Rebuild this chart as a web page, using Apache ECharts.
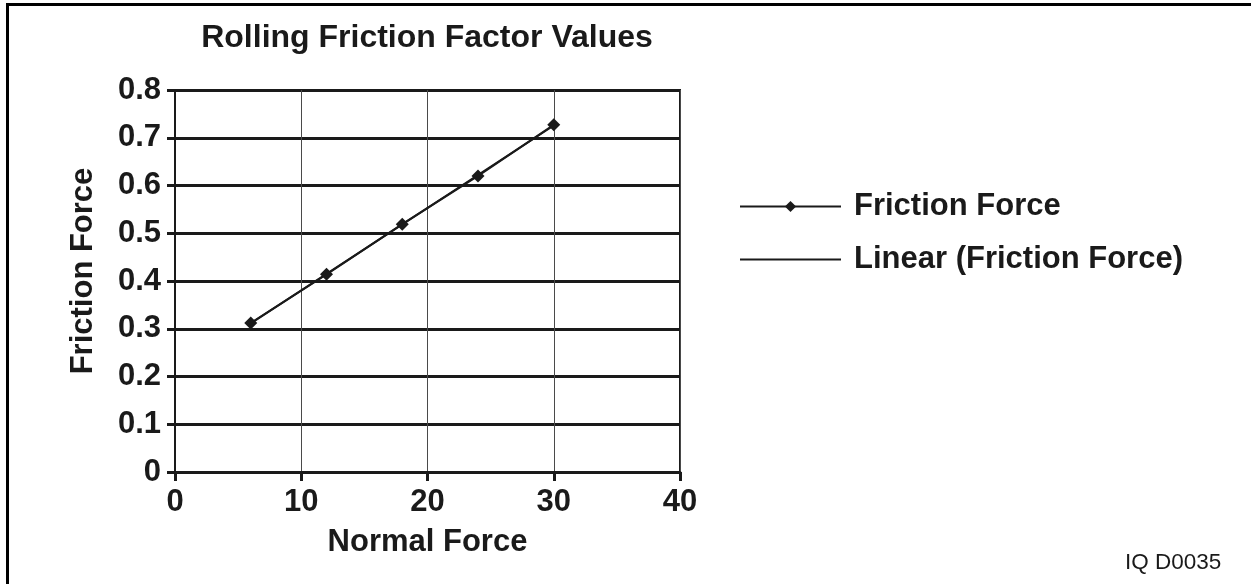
<!DOCTYPE html>
<html>
<head>
<meta charset="utf-8">
<style>
  html, body { margin: 0; padding: 0; background: #fff; }
  #chart { width: 1251px; height: 584px; }
</style>
<script src="https://cdn.jsdelivr.net/npm/echarts@6/dist/echarts.min.js"></script>
</head>
<body>
<div id="chart"></div>
<script>
// Measured rolling friction: normal force vs. friction force
const normalForce = [6, 12, 18, 24, 30];
const frictionForce = [0.312, 0.414, 0.519, 0.620, 0.727];

const xTicks = [0, 10, 20, 30, 40];
const yTicks = [0, 0.1, 0.2, 0.3, 0.4, 0.5, 0.6, 0.7, 0.8];

const titleText = 'Rolling Friction Factor Values';
const seriesName = 'Friction Force';
const trendName = 'Linear (Friction Force)';
const xName = 'Normal Force';
const yName = 'Friction Force';
const figureId = 'IQ D0035';

// Least-squares trend line evaluated over the measured range
function linearFit(xs, ys) {
  const n = xs.length;
  const mx = xs.reduce((a, b) => a + b, 0) / n;
  const my = ys.reduce((a, b) => a + b, 0) / n;
  let sxy = 0, sxx = 0;
  for (let i = 0; i < n; i++) {
    sxy += (xs[i] - mx) * (ys[i] - my);
    sxx += (xs[i] - mx) * (xs[i] - mx);
  }
  const slope = sxy / sxx;
  return x => my + slope * (x - mx);
}
const fit = linearFit(normalForce, frictionForce);
const xMin = Math.min(...normalForce), xMax = Math.max(...normalForce);
const trendData = [[xMin, fit(xMin)], [xMax, fit(xMax)]];

const FONT = 'Liberation Sans, Arial, sans-serif';
const INK = '#1a1a1a';
const bold = (size) => ({ fontFamily: FONT, fontWeight: 'bold', fontSize: size, color: INK });

const chart = echarts.init(document.getElementById('chart'), null, { renderer: 'canvas' });

chart.setOption({
  animation: false,
  backgroundColor: '#fff',
  title: {
    text: titleText,
    left: 427,
    top: 22,
    padding: 0,
    textAlign: 'center',
    textStyle: bold(32)
  },
  grid: {
    left: 175, right: 571, top: 90, bottom: 112,
    show: true, borderColor: INK, borderWidth: 2, backgroundColor: 'transparent'
  },
  legend: {
    orient: 'vertical',
    left: 739,
    top: 191,
    padding: 0,
    itemWidth: 101,
    itemHeight: 14,
    itemGap: 22,
    textStyle: Object.assign(bold(31), { padding: [0, 0, 0, 8] }),
    data: [
      seriesName,
      { name: trendName, icon: 'path://M0,0H100V2H0Z', itemStyle: { color: INK } }
    ]
  },
  xAxis: {
    type: 'value',
    min: 0, max: 40, interval: 10,
    name: xName,
    nameLocation: 'middle',
    nameGap: 55,
    nameTextStyle: bold(31),
    axisLine: { show: true, lineStyle: { color: INK, width: 3 } },
    axisTick: { show: true, length: 9, lineStyle: { color: INK, width: 3 } },
    axisLabel: Object.assign(bold(31), {
      margin: 15,
      formatter: v => xTicks.includes(v) ? String(v) : ''
    }),
    splitLine: { show: true, lineStyle: { color: '#4a4a4a', width: 1 } }
  },
  yAxis: {
    type: 'value',
    min: 0, max: 0.8, interval: 0.1,
    name: yName,
    nameLocation: 'middle',
    nameGap: 76,
    nameRotate: 90,
    nameTextStyle: Object.assign(bold(31), { padding: [0, 0, 0, 20] }),
    axisLine: { show: true, lineStyle: { color: INK, width: 2 } },
    axisTick: { show: true, length: 8, lineStyle: { color: INK, width: 3 } },
    axisLabel: Object.assign(bold(31), {
      margin: 14,
      formatter: v => {
        const t = yTicks.find(k => Math.abs(k - v) < 1e-9);
        return t === undefined ? '' : (t === 0 ? '0' : t.toFixed(1));
      }
    }),
    splitLine: { show: true, lineStyle: { color: INK, width: 3 } }
  },
  series: [
    {
      name: seriesName,
      type: 'line',
      data: normalForce.map((x, i) => [x, frictionForce[i]]),
      symbol: 'diamond',
      symbolSize: 13,
      itemStyle: { color: INK },
      lineStyle: { color: INK, width: 2 },
      z: 3
    },
    {
      name: trendName,
      type: 'line',
      data: trendData,
      symbol: 'none',
      showSymbol: false,
      itemStyle: { color: INK },
      lineStyle: { color: INK, width: 2 },
      z: 2
    }
  ],
  graphic: [
    {
      type: 'rect',
      shape: { x: 7.5, y: 4.5, width: 1260, height: 600 },
      style: { fill: 'none', stroke: '#000', lineWidth: 3 },
      silent: true
    },
    {
      type: 'text',
      left: 1125,
      top: 551,
      style: { text: figureId, fontFamily: FONT, fontSize: 22.5, fill: INK }
    }
  ]
});
</script>
</body>
</html>
